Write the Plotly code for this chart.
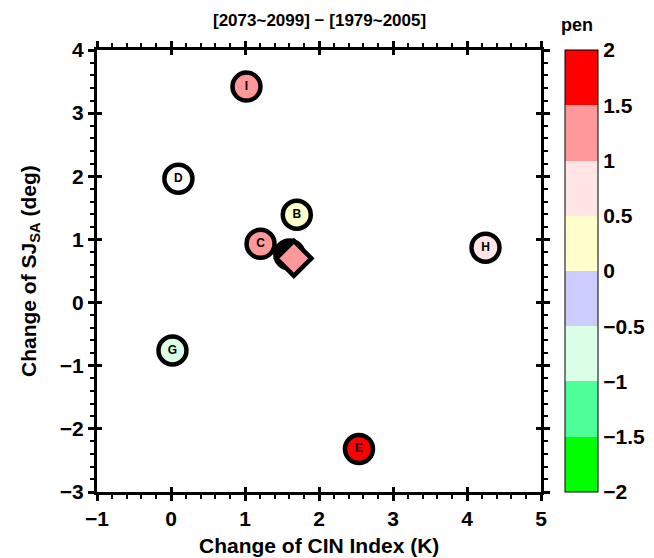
import plotly.graph_objects as go

# ---- data ----
models = ["A", "B", "C", "D", "E", "G", "H", "I"]
cin_change = [1.60, 1.70, 1.21, 0.10, 2.54, 0.02, 4.25, 1.02]
sj_change = [0.76, 1.39, 0.93, 1.96, -2.32, -0.76, 0.87, 3.42]
pen_values = [None, 0.3, 1.2, None, 1.8, -0.7, 0.7, 1.25]
special_fill = {"A": "#000000", "D": "#FFFFFF"}

mean_cin = [1.66]
mean_sj = [0.70]
mean_pen = [1.2]

bin_edges = [-2, -1.5, -1, -0.5, 0, 0.5, 1, 1.5, 2]
bin_colors = ["#00FF00", "#4DFF99", "#DAFFE6", "#CCCCFF",
              "#FFFFCC", "#FFE5E5", "#FF9999", "#FF0000"]
cbar_ticks = [-2, -1.5, -1, -0.5, 0, 0.5, 1, 1.5, 2]
x_ticks = [-1, 0, 1, 2, 3, 4, 5]
y_ticks = [-3, -2, -1, 0, 1, 2, 3, 4]


def color_of(v):
    for i in range(len(bin_colors)):
        if bin_edges[i] <= v < bin_edges[i + 1] or (i == len(bin_colors) - 1 and v == bin_edges[-1]):
            return bin_colors[i]
    return "#FFFFFF"


fills = [special_fill.get(m) if p is None else color_of(p) for m, p in zip(models, pen_values)]

n = len(bin_colors)
colorscale = []
for i, c in enumerate(bin_colors):
    colorscale.append([i / n, c])
    colorscale.append([(i + 1) / n, c])

FONT = "Liberation Sans, Arial, Helvetica, sans-serif"
BIG = 21
PW, PH = 444, 442  # plot area size in px

fig = go.Figure()

# dummy trace for colorbar
fig.add_trace(go.Scatter(
    x=[0], y=[0], mode="markers", showlegend=False, hoverinfo="skip",
    marker=dict(color=[0], cmin=-2, cmax=2, colorscale=colorscale, showscale=True, opacity=0,
                size=1,
                colorbar=dict(
                    x=(565 - 97) / PW, xanchor="left", xref="paper",
                    y=0.5, yanchor="middle", len=1, lenmode="fraction",
                    thickness=33, thicknessmode="pixels",
                    outlinewidth=1, outlinecolor="black",
                    tickvals=cbar_ticks, ticks="", ticklabelposition="outside",
                    tickfont=dict(family=FONT, size=BIG, color="black", weight="bold"),
                    xpad=0, ypad=0, borderwidth=0,
                )),
))

# model circles
fig.add_trace(go.Scatter(
    x=cin_change, y=sj_change, mode="markers+text", text=models,
    showlegend=False, hoverinfo="skip",
    textposition="middle center",
    textfont=dict(family=FONT, size=12, color="black", weight="bold"),
    marker=dict(symbol="circle", size=28, color=fills,
                line=dict(color="black", width=4.5)),
))

# ensemble mean diamond
fig.add_trace(go.Scatter(
    x=mean_cin, y=mean_sj, mode="markers", showlegend=False, hoverinfo="skip",
    marker=dict(symbol="diamond", size=27, color=[color_of(v) for v in mean_pen],
                line=dict(color="black", width=4.5)),
))

# invisible trace on overlay axes (inward major ticks)
fig.add_trace(go.Scatter(x=[0], y=[0], xaxis="x2", yaxis="y2", mode="markers",
                         marker=dict(opacity=0, size=1),
                         showlegend=False, hoverinfo="skip"))

axis_common = dict(
    showgrid=False, zeroline=False, showline=True, linecolor="black", linewidth=3,
    mirror="allticks", ticks="outside", ticklen=6, tickwidth=2.5, tickcolor="black",
    tickfont=dict(family=FONT, size=BIG, color="black", weight="bold"),
    minor=dict(dtick=0.2, ticks="outside", ticklen=4, tickwidth=2.2, tickcolor="black"),
    automargin=False,
)

fig.update_layout(
    width=654, height=558,
    margin=dict(l=97, r=113, t=50, b=66, autoexpand=False),
    paper_bgcolor="white", plot_bgcolor="white",
    xaxis=dict(range=[-1, 5], tickvals=x_ticks, **axis_common),
    yaxis=dict(range=[-3, 4], tickvals=y_ticks, **axis_common),
    xaxis2=dict(range=[-1, 5], tickvals=x_ticks, overlaying="x", anchor="y2",
                showgrid=False, zeroline=False, showline=False, showticklabels=False,
                ticks="inside", ticklen=5, tickwidth=2.5, tickcolor="black", mirror="allticks",
                automargin=False),
    yaxis2=dict(range=[-3, 4], tickvals=y_ticks, overlaying="y", anchor="x2",
                showgrid=False, zeroline=False, showline=False, showticklabels=False,
                ticks="inside", ticklen=5, tickwidth=2.5, tickcolor="black", mirror="allticks",
                automargin=False),
    annotations=[
        dict(text="[2073~2099] \u2212 [1979~2005]", xref="paper", yref="paper",
             x=0.5, y=1 + (50 - 20) / PH, xanchor="center", yanchor="middle",
             showarrow=False, font=dict(family=FONT, size=17, color="black", weight="bold")),
        dict(text="pen", xref="paper", yref="paper",
             x=(577 - 97) / PW, y=1 + (50 - 25) / PH, xanchor="center", yanchor="middle",
             showarrow=False, font=dict(family=FONT, size=18, color="black", weight="bold")),
        dict(text="Change of CIN Index (K)", xref="paper", yref="paper",
             x=0.5, y=-(545 - 492) / PH, xanchor="center", yanchor="middle",
             showarrow=False, font=dict(family=FONT, size=BIG, color="black", weight="bold")),
        dict(text="Change of SJ<sub>SA</sub> (deg)", xref="paper", yref="paper",
             x=-(97 - 30) / PW, y=0.5, xanchor="center", yanchor="middle", textangle=-90,
             showarrow=False, font=dict(family=FONT, size=BIG, color="black", weight="bold")),
    ],
)

fig.write_html("out.html")
